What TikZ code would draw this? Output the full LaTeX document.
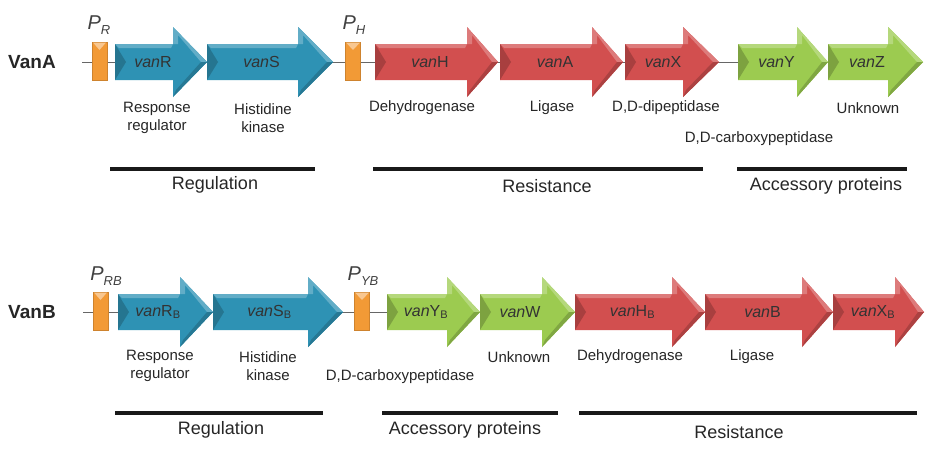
\documentclass[tikz,border=0pt]{standalone}
\usepackage{fontspec}
\setmainfont{Liberation Sans}
\definecolor{gblue}{HTML}{2E92B4}
\definecolor{gred}{HTML}{D24F4F}
\definecolor{ggreen}{HTML}{9CCB50}
\definecolor{gorange}{HTML}{F29A36}
\tikzset{
  gtext/.style={font=\fontsize{16}{18}\selectfont, text=black!80, inner sep=0pt},
  desc/.style={font=\fontsize{15}{18}\selectfont, text=black!85, align=center, inner sep=0pt},
  grp/.style={font=\fontsize{18}{20}\selectfont, text=black!85, inner sep=0pt},
  rowlabel/.style={font=\fontsize{19}{21}\selectfont\bfseries, text=black!85, inner sep=0pt},
  plabel/.style={font=\fontsize{20}{22}\selectfont\itshape, text=black!75, inner sep=0pt},
  groupbar/.style={line width=3.2pt, black!90},
  backbone/.style={draw=black!60, line width=0.8pt},
  prombox/.style={draw=gorange!85!black, line width=0.6pt, fill=gorange, minimum width=15pt, minimum height=38pt, inner sep=0pt},
}
\newcommand\psub[2]{#1\raisebox{-0.45ex}{\fontsize{13}{13}\selectfont #2}}
\newcommand\vsub[1]{\textsubscript{\fontsize{11}{11}\selectfont #1}}
% name, x0, xh, xt, yc, colour, text
\newcommand\genearrow[7]{%
  \fill[#6] (#2,#5-18) -- (#3,#5-18) -- (#3,#5-35) -- (#4,#5) -- (#3,#5+35) -- (#3,#5+18) -- (#2,#5+18) -- cycle;
  \fill[#6!75!white] (#2,#5-18) -- (#3,#5-18) -- (#3-2,#5-14) -- (#2+4,#5-14) -- cycle;
  \fill[#6!80!black] (#2,#5-18) -- (#2+11,#5) -- (#2,#5+18) -- cycle;
  \fill[#6!75!white] (#3,#5-35) -- (#4,#5) -- (#4-6,#5) -- (#3+5,#5-27) -- (#3+5,#5-18) -- (#3,#5-18) -- cycle;
  \fill[#6!82!black] (#3,#5+35) -- (#4,#5) -- (#4-6,#5) -- (#3+3,#5+28) -- cycle;
  \node[gtext] (#1) at ({(#2+#3)/2+9},#5) {#7};
}
\begin{document}
\begin{tikzpicture}[x=1pt,y=-1pt]
\useasboundingbox[fill=white] (0,0) rectangle (925,456);

% ---------------- VanA ----------------
\node[rowlabel] (vanAlabel) at (32,62) {VanA};
\coordinate (startA) at (82,62);
\coordinate (endA) at (740,62);
\draw[backbone] (startA) -- (endA);
\node[prombox] (PR) at (99.5,61) {};
\fill[gorange!55!white] (93,42.5) -- (106,42.5) -- (99.5,50) -- cycle;
\node[plabel] (PRl) at (99,25) {\psub{P}{R}};
\node[prombox] (PH) at (353,61) {};
\fill[gorange!55!white] (346,42.5) -- (360,42.5) -- (353,50) -- cycle;
\node[plabel] (PHl) at (354,25) {\psub{P}{H}};

\genearrow{vanR}{115}{173}{207}{62}{gblue}{\textit{van}R}
\genearrow{vanS}{207}{298}{333}{62}{gblue}{\textit{van}S}
\genearrow{vanH}{375}{467}{498}{62}{gred}{\textit{van}H}
\genearrow{vanA}{500}{592}{623}{62}{gred}{\textit{van}A}
\genearrow{vanX}{625}{683}{719}{62}{gred}{\textit{van}X}
\genearrow{vanY}{738}{797}{828}{62}{ggreen}{\textit{van}Y}
\genearrow{vanZ}{828}{888}{923}{62}{ggreen}{\textit{van}Z}

\node[desc] (dRA) at (157,118) {Response\\regulator};
\node[desc] (dSA) at (263,118) {Histidine\\kinase};
\node[desc] (dHA) at (422,108) {Dehydrogenase};
\node[desc] (dAA) at (552,108) {Ligase};
\node[desc] (dXA) at (666,108) {D,D-dipeptidase};
\node[desc] (dZA) at (868,108) {Unknown};
\node[desc] (dYA) at (759,139) {D,D-carboxypeptidase};

\coordinate (rgA1) at (110,169); \coordinate (rgA2) at (315,169);
\draw[groupbar] (rgA1) -- (rgA2);
\node[grp] (regA) at (215,185) {Regulation};
\coordinate (rsA1) at (373,169); \coordinate (rsA2) at (703,169);
\draw[groupbar] (rsA1) -- (rsA2);
\node[grp] (resA) at (547,186) {Resistance};
\coordinate (acA1) at (737,169); \coordinate (acA2) at (907,169);
\draw[groupbar] (acA1) -- (acA2);
\node[grp] (accA) at (826,186) {Accessory proteins};

% ---------------- VanB ----------------
\node[rowlabel] (vanBlabel) at (32,312) {VanB};
\coordinate (startB) at (83,312);
\coordinate (endB) at (390,312);
\draw[backbone] (startB) -- (endB);
\node[prombox] (PRB) at (100.5,311) {};
\fill[gorange!55!white] (94,292.5) -- (107,292.5) -- (100.5,300) -- cycle;
\node[plabel] (PRBl) at (106,276) {\psub{P}{RB}};
\node[prombox] (PYB) at (362,311) {};
\fill[gorange!55!white] (355,292.5) -- (369,292.5) -- (362,300) -- cycle;
\node[plabel] (PYBl) at (363,276) {\psub{P}{YB}};

\genearrow{vanRB}{118}{180}{213}{312}{gblue}{\textit{van}R\vsub{B}}
\genearrow{vanSB}{213}{308}{343}{312}{gblue}{\textit{van}S\vsub{B}}
\genearrow{vanYB}{387}{447}{480}{312}{ggreen}{\textit{van}Y\vsub{B}}
\genearrow{vanW}{480}{542}{575}{312}{ggreen}{\textit{van}W}
\genearrow{vanHB}{575}{672}{705}{312}{gred}{\textit{van}H\vsub{B}}
\genearrow{vanB}{705}{802}{833}{312}{gred}{\textit{van}B}
\genearrow{vanXB}{833}{895}{924}{312}{gred}{\textit{van}X\vsub{B}}

\node[desc] (dRB) at (160,366) {Response\\regulator};
\node[desc] (dSB) at (268,366) {Histidine\\kinase};
\node[desc] (dYB) at (400,377) {D,D-carboxypeptidase};
\node[desc] (dWB) at (519,357) {Unknown};
\node[desc] (dHB) at (630,357) {Dehydrogenase};
\node[desc] (dBB) at (752,357) {Ligase};

\coordinate (rgB1) at (115,413); \coordinate (rgB2) at (323,413);
\draw[groupbar] (rgB1) -- (rgB2);
\node[grp] (regB) at (221,430) {Regulation};
\coordinate (acB1) at (382,413); \coordinate (acB2) at (558,413);
\draw[groupbar] (acB1) -- (acB2);
\node[grp] (accB) at (465,430) {Accessory proteins};
\coordinate (rsB1) at (579,413); \coordinate (rsB2) at (917,413);
\draw[groupbar] (rsB1) -- (rsB2);
\node[grp] (resB) at (739,432) {Resistance};
\end{tikzpicture}
\end{document}
